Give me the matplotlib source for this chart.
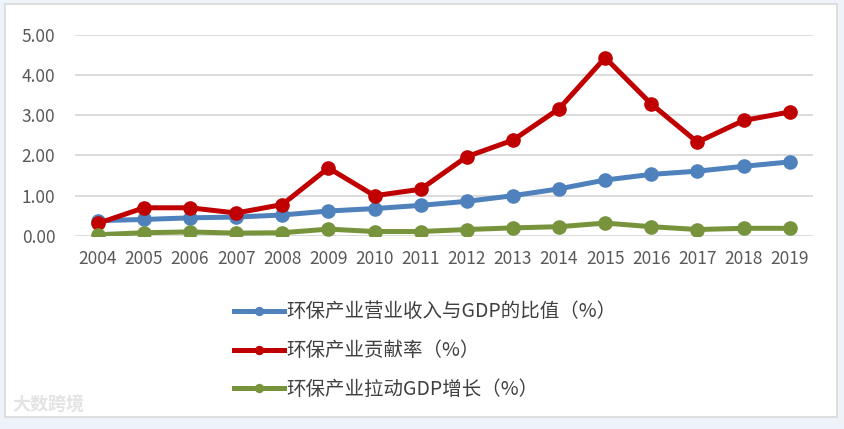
import numpy as np
import matplotlib.pyplot as plt
from matplotlib.patches import Rectangle

plt.rcParams['font.family'] = ['Noto Sans CJK SC', 'DejaVu Sans']

years = ["2004", "2005", "2006", "2007", "2008", "2009", "2010", "2011",
         "2012", "2013", "2014", "2015", "2016", "2017", "2018", "2019"]
ratio = [0.38, 0.41, 0.45, 0.47, 0.52, 0.62, 0.68, 0.76,
         0.86, 1.00, 1.17, 1.39, 1.53, 1.61, 1.73, 1.84]
contrib = [0.31, 0.70, 0.70, 0.57, 0.78, 1.69, 1.00, 1.16,
           1.97, 2.38, 3.16, 4.43, 3.28, 2.33, 2.87, 3.08]
pull = [0.03, 0.08, 0.10, 0.07, 0.08, 0.17, 0.11, 0.11,
        0.16, 0.20, 0.23, 0.32, 0.23, 0.16, 0.19, 0.19]
names = ["环保产业营业收入与GDP的比值（%）", "环保产业贡献率（%）", "环保产业拉动GDP增长（%）"]
colors = ["#4F81BD", "#C00000", "#77933C"]
yticks = [0, 1, 2, 3, 4, 5]

fig = plt.figure(figsize=(8.45, 4.29), dpi=100)
fig.patch.set_facecolor("#EEF3FA")
# white chart area with light border
fig.patches.append(Rectangle((0.006, 0.028), 0.985, 0.962, transform=fig.transFigure,
                             facecolor="white", edgecolor="#D9D9D9", lw=1.2, zorder=-1))

ax = fig.add_axes([0.0884, 0.45, 0.8734, 0.469])
ax.set_facecolor("none")
x = np.arange(len(years))
for vals, name, c in zip([ratio, contrib, pull], names, colors):
    ax.plot(x, vals, color=c, lw=3.6, marker="o", markersize=9.5, label=name,
            solid_joinstyle="round", zorder=3)

ax.set_xlim(-0.5, len(years) - 0.5)
ax.set_ylim(0, 5)
ax.set_yticks(yticks)
ax.set_yticklabels(["%.2f" % v for v in yticks])
ax.set_xticks(x)
ax.set_xticklabels(years)
ax.grid(axis="y", color="#D9D9D9", lw=1.3)
ax.set_axisbelow(True)
for s in ax.spines.values():
    s.set_visible(False)
ax.tick_params(length=0, labelsize=12.5, labelcolor="#595959")
ax.tick_params(axis="x", pad=10)
ax.tick_params(axis="y", pad=14)

leg = fig.legend(loc="upper left", bbox_to_anchor=(0.256, 0.338), frameon=False,
                 fontsize=14, labelcolor="#404040", handlelength=2.6, handletextpad=0.1,
                 labelspacing=0.92, markerscale=0.6)

fig.text(0.015, 0.045, "大数跨境", fontsize=13, color="#E3E3E3", fontweight="bold")

fig.savefig("out.png", dpi=100, facecolor=fig.get_facecolor())
